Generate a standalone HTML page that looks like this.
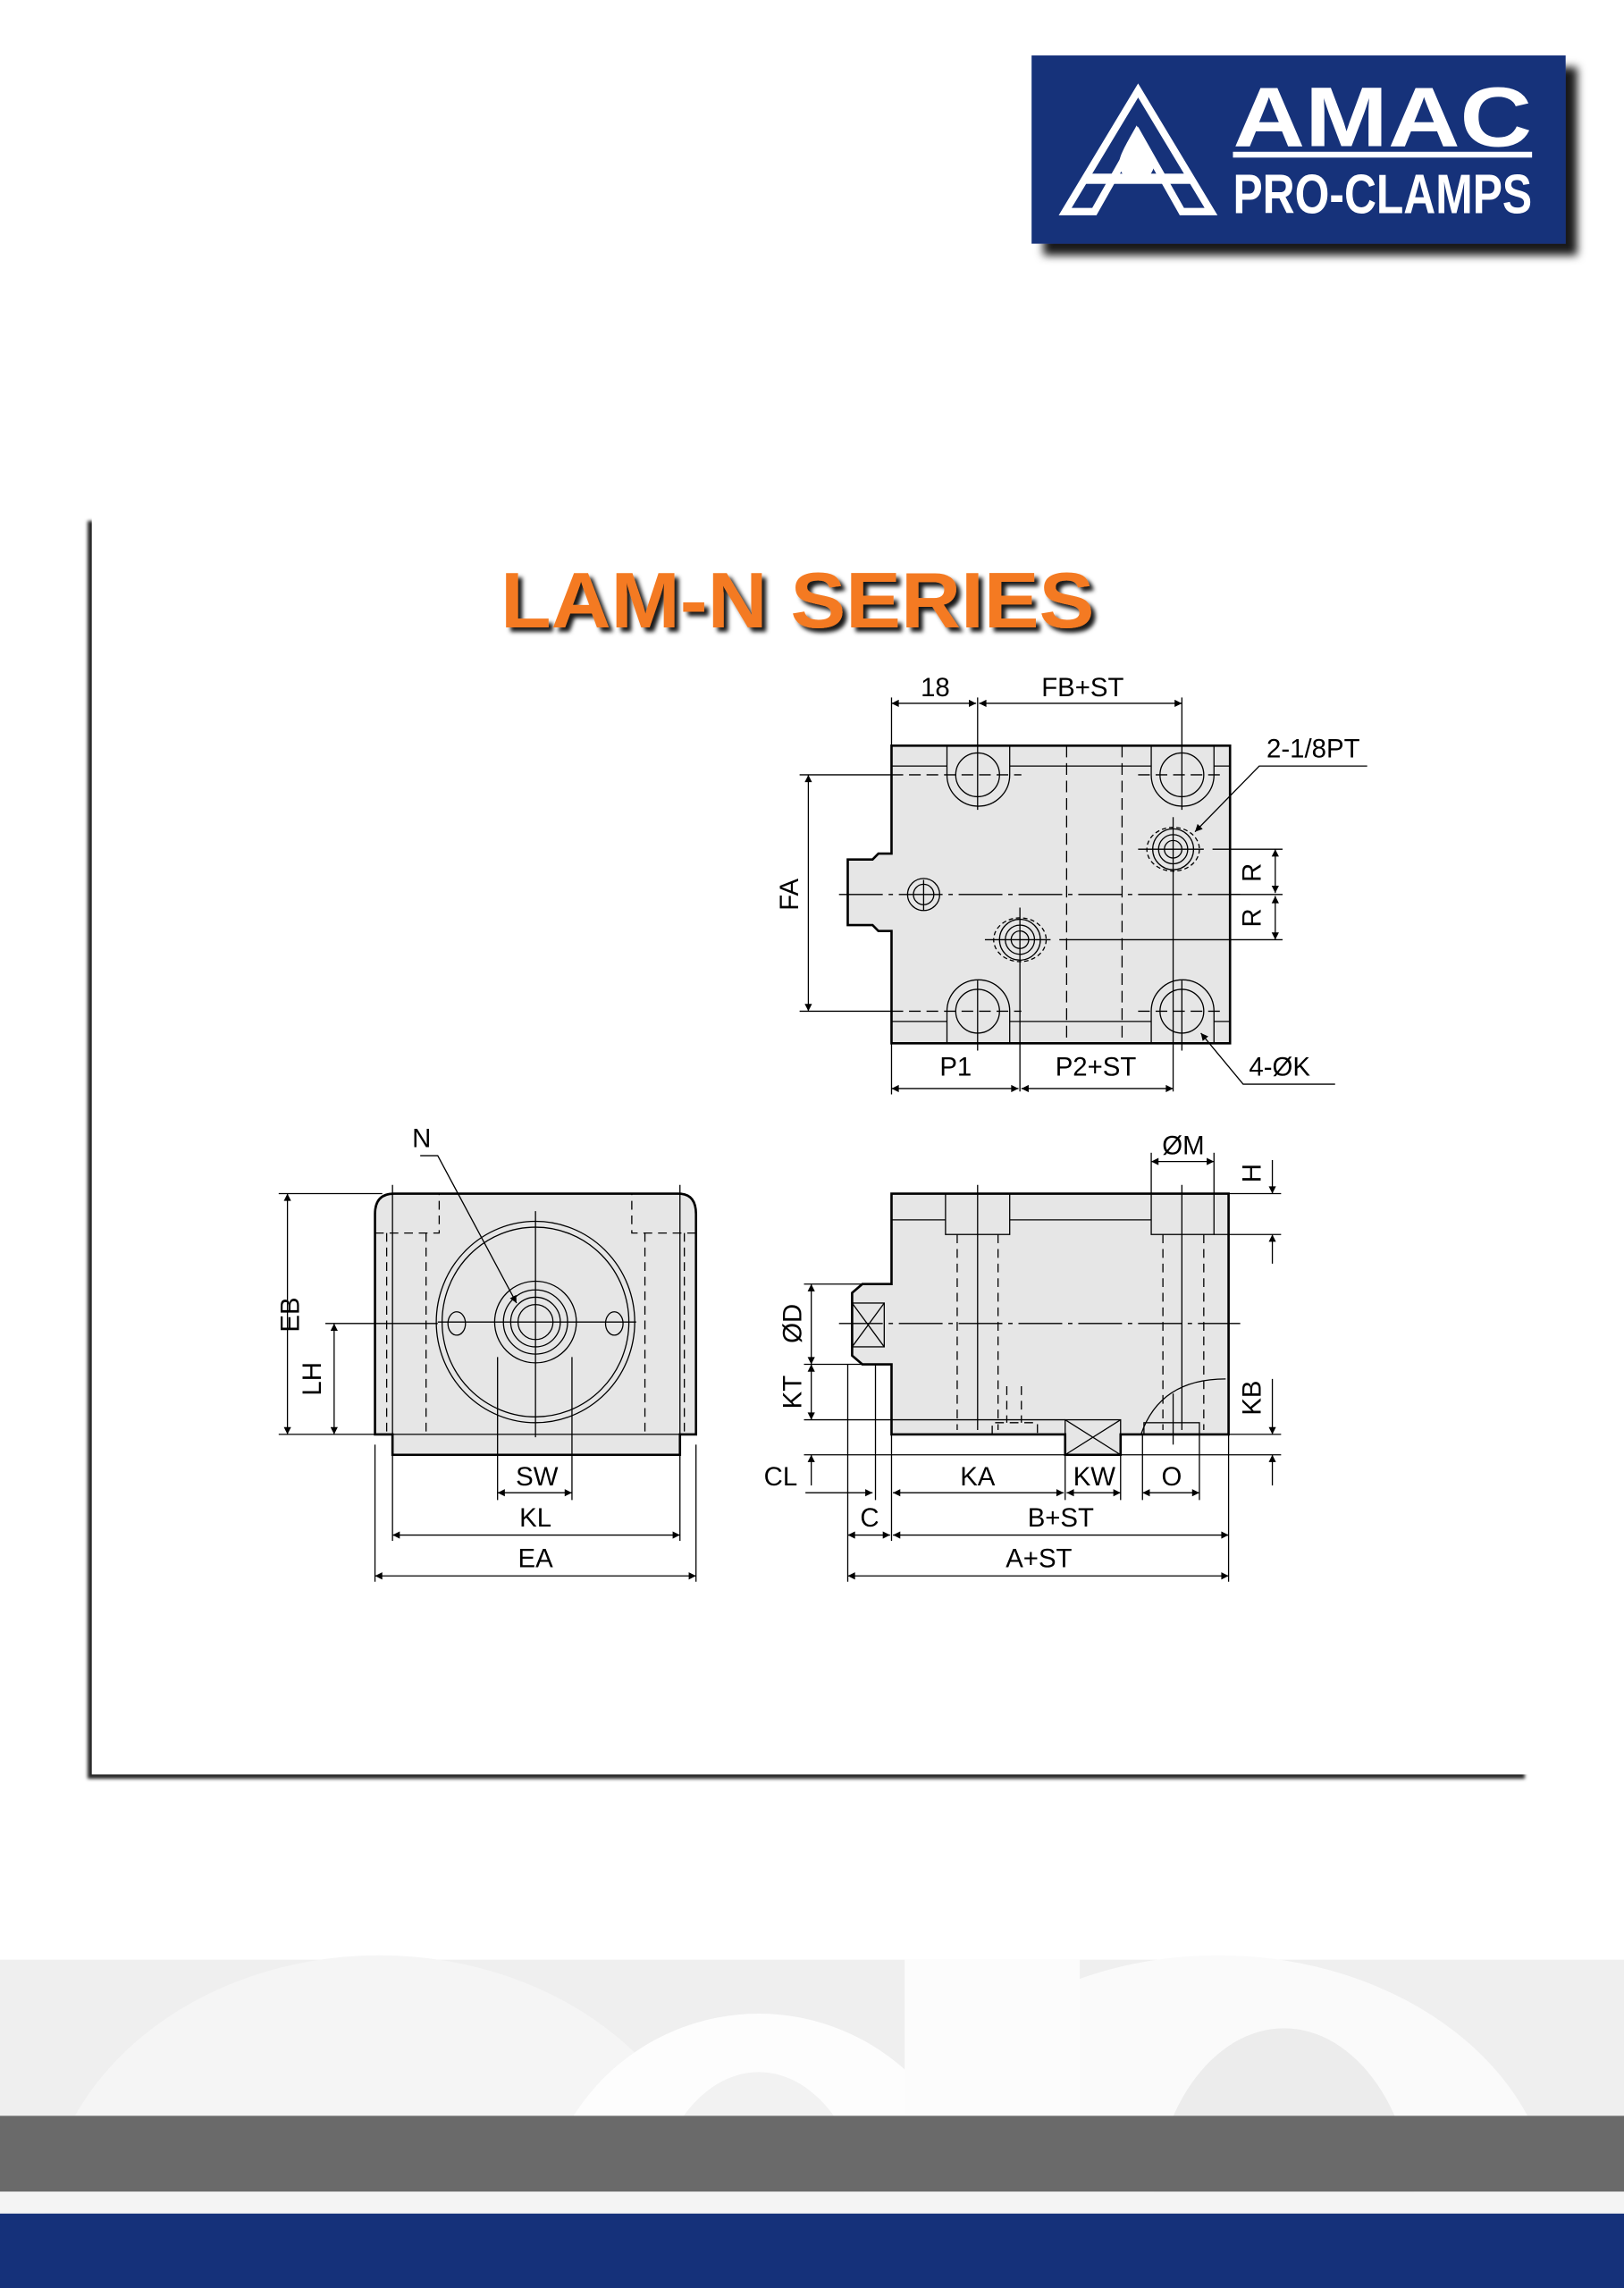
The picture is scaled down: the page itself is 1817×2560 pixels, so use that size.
<!DOCTYPE html>
<html><head><meta charset="utf-8"><style>
html,body{margin:0;padding:0;background:#fff;width:1817px;height:2560px;overflow:hidden;}
svg{display:block;}
text{font-family:"Liberation Sans",sans-serif;}
</style></head><body>
<svg width="1817" height="2560" viewBox="0 0 1113 1568" preserveAspectRatio="none" xmlns="http://www.w3.org/2000/svg">
<defs>
<marker id="a" viewBox="0 0 10 10" refX="10" refY="5" markerWidth="9" markerHeight="5" orient="auto-start-reverse" markerUnits="userSpaceOnUse"><path d="M0,0 L10,5 L0,10 z" fill="#000"/></marker>
<filter id="sh" x="-10%" y="-10%" width="130%" height="130%"><feDropShadow dx="-3" dy="3" stdDeviation="1.2" flood-color="#000" flood-opacity="0.85"/></filter>
<filter id="sh2" x="-10%" y="-20%" width="130%" height="150%"><feDropShadow dx="8" dy="8" stdDeviation="3" flood-color="#000" flood-opacity="0.9"/></filter>
<filter id="tsh"><feDropShadow dx="3" dy="3" stdDeviation="1.5" flood-color="#000" flood-opacity="0.9"/></filter>
</defs>

<rect x="0" y="1343" width="1113" height="107" fill="#efefef"/>
<ellipse cx="260" cy="1530" rx="230" ry="190" fill="#f5f5f5"/>
<ellipse cx="520" cy="1530" rx="150" ry="150" fill="#fdfdfd"/>
<ellipse cx="520" cy="1530" rx="75" ry="110" fill="#f2f2f2"/>
<ellipse cx="835" cy="1520" rx="230" ry="180" fill="#fafafa"/>
<rect x="620" y="1343" width="120" height="107" fill="#fcfcfc"/>
<ellipse cx="880" cy="1520" rx="90" ry="130" fill="#ececec"/>
<rect x="0" y="1450" width="1113" height="52" fill="#6a6a6a"/>
<rect x="0" y="1502" width="1113" height="15" fill="#f4f4f4"/>
<rect x="0" y="1517" width="1113" height="51" fill="#15317a"/>

<rect x="63" y="354" width="985" height="862" fill="#fff" filter="url(#sh)"/>

<rect x="707" y="38" width="366" height="129" fill="#16307a" filter="url(#sh2)"/>
<path d="M780,62 L830,145 L810,145 L780,92 L750,145 L730,145 Z" fill="none" stroke="#fff" stroke-width="5"/>
<rect x="744" y="119" width="72" height="7" fill="#fff"/>
<path d="M779,86 C771,100 767,107 767,112 A12,12 0 0 0 791,112 C791,107 787,100 779,86 Z" fill="#fff"/>
<text x="845" y="100" font-size="58" font-weight="bold" fill="#fff" textLength="205" lengthAdjust="spacingAndGlyphs">AMAC</text>
<rect x="845" y="104" width="205" height="4" fill="#fff"/>
<text x="845" y="146" font-size="38" font-weight="bold" fill="#fff" textLength="205" lengthAdjust="spacingAndGlyphs">PRO-CLAMPS</text>

<text x="343" y="430" font-size="54" font-weight="bold" fill="#f47a20" filter="url(#tsh)" textLength="407" lengthAdjust="spacingAndGlyphs">LAM-N SERIES</text>

<g stroke="#000" fill="none" stroke-width="0.8">
<path d="M611,511 H843 V715 H611 V638 H602 L598,634 H581 V589 H598 L602,585 H611 Z" fill="#e6e6e6" stroke-width="1.6"/>
<line x1="611" y1="525" x2="649" y2="525"/><line x1="692" y1="525" x2="789" y2="525"/><line x1="832" y1="525" x2="843" y2="525"/>
<line x1="611" y1="700" x2="649" y2="700"/><line x1="692" y1="700" x2="789" y2="700"/><line x1="832" y1="700" x2="843" y2="700"/>
<path d="M649,511 V531 A20,20 0 0 0 692,531 V511"/><path d="M789,511 V531 A21,21 0 0 0 832,531 V511"/>
<path d="M649,715 V693 A20,20 0 0 1 692,693 V715"/><path d="M789,715 V693 A21,21 0 0 1 832,693 V715"/>
<circle cx="670" cy="531" r="15"/><circle cx="810" cy="531" r="15"/><circle cx="670" cy="693" r="15"/><circle cx="810" cy="693" r="15"/>
<g stroke-dasharray="8,4"><line x1="731" y1="511" x2="731" y2="715"/><line x1="769" y1="511" x2="769" y2="715"/>
<line x1="611" y1="531" x2="700" y2="531"/><line x1="780" y1="531" x2="840" y2="531"/><line x1="611" y1="693" x2="700" y2="693"/><line x1="780" y1="693" x2="840" y2="693"/></g>
<line x1="670" y1="478" x2="670" y2="555"/><line x1="810" y1="478" x2="810" y2="555"/>
<line x1="670" y1="672" x2="670" y2="720"/><line x1="810" y1="672" x2="810" y2="720"/>
<line x1="611" y1="478" x2="611" y2="511"/>
<path d="M575,613 H850" stroke-dasharray="30,4,3,4"/>
<circle cx="633" cy="613" r="11"/><circle cx="633" cy="613" r="7"/><line x1="633" y1="603" x2="633" y2="624"/>
<circle cx="804" cy="582" r="14"/><circle cx="804" cy="582" r="10"/><circle cx="804" cy="582" r="6"/><ellipse cx="804" cy="582" rx="18" ry="15" stroke-dasharray="3,2"/>
<line x1="780" y1="582" x2="825" y2="582"/><line x1="804" y1="560" x2="804" y2="603"/>
<circle cx="699" cy="644" r="14"/><circle cx="699" cy="644" r="10"/><circle cx="699" cy="644" r="6"/><ellipse cx="699" cy="644" rx="18" ry="15" stroke-dasharray="3,2"/>
<line x1="675" y1="644" x2="720" y2="644"/><line x1="699" y1="622" x2="699" y2="748"/><line x1="804" y1="603" x2="804" y2="748"/>
<line x1="611" y1="482" x2="669" y2="482" marker-start="url(#a)" marker-end="url(#a)"/>
<line x1="671" y1="482" x2="810" y2="482" marker-start="url(#a)" marker-end="url(#a)"/>
<line x1="548" y1="531" x2="611" y2="531"/><line x1="548" y1="693" x2="611" y2="693"/>
<line x1="554" y1="531" x2="554" y2="693" marker-start="url(#a)" marker-end="url(#a)"/>
<line x1="831" y1="582" x2="879" y2="582"/><line x1="843" y1="613" x2="879" y2="613"/><line x1="726" y1="644" x2="879" y2="644"/>
<line x1="874" y1="582" x2="874" y2="612" marker-start="url(#a)" marker-end="url(#a)"/>
<line x1="874" y1="614" x2="874" y2="644" marker-start="url(#a)" marker-end="url(#a)"/>
<polyline points="937,525 863,525 819,570" marker-end="url(#a)"/>
<polyline points="915,743 852,743 823,708" marker-end="url(#a)"/>
<line x1="611" y1="715" x2="611" y2="750"/>
<line x1="611" y1="746" x2="698" y2="746" marker-start="url(#a)" marker-end="url(#a)"/>
<line x1="700" y1="746" x2="804" y2="746" marker-start="url(#a)" marker-end="url(#a)"/>

<path d="M270,818 H465 Q477,818 477,832 V983 H466 V997 H269 V983 H257 V832 Q257,818 270,818 Z" fill="#e6e6e6" stroke-width="1.6"/>
<line x1="257" y1="983" x2="477" y2="983"/>
<g stroke-dasharray="6,4"><line x1="265" y1="845" x2="265" y2="983"/><line x1="292" y1="845" x2="292" y2="983"/><line x1="442" y1="845" x2="442" y2="983"/><line x1="469" y1="845" x2="469" y2="983"/>
<polyline points="257,845 301,845 301,818"/><polyline points="477,845 433,845 433,818"/></g>
<line x1="269" y1="812" x2="269" y2="997"/><line x1="466" y1="812" x2="466" y2="997"/>
<ellipse cx="367" cy="906" rx="68" ry="69"/><ellipse cx="367" cy="906" rx="64" ry="65"/>
<circle cx="367" cy="906" r="28"/><circle cx="367" cy="906" r="22"/><circle cx="367" cy="906" r="17"/><circle cx="367" cy="906" r="12"/>
<ellipse cx="313" cy="907" rx="6" ry="8"/><ellipse cx="421" cy="907" rx="6" ry="8"/>
<line x1="300" y1="906" x2="436" y2="906"/><line x1="367" y1="830" x2="367" y2="985"/>
<polyline points="288,792 300,792 354,893" marker-end="url(#a)"/>
<line x1="191" y1="818" x2="262" y2="818"/><line x1="191" y1="983" x2="257" y2="983"/><line x1="223" y1="907" x2="300" y2="907"/>
<line x1="197" y1="818" x2="197" y2="983" marker-start="url(#a)" marker-end="url(#a)"/>
<line x1="229" y1="907" x2="229" y2="983" marker-start="url(#a)" marker-end="url(#a)"/>
<line x1="341" y1="930" x2="341" y2="1028"/><line x1="392" y1="930" x2="392" y2="1028"/>
<line x1="257" y1="990" x2="257" y2="1084"/><line x1="477" y1="990" x2="477" y2="1084"/>
<line x1="269" y1="997" x2="269" y2="1056"/><line x1="466" y1="997" x2="466" y2="1056"/>
<line x1="341" y1="1023" x2="392" y2="1023" marker-start="url(#a)" marker-end="url(#a)"/>
<line x1="269" y1="1052" x2="466" y2="1052" marker-start="url(#a)" marker-end="url(#a)"/>
<line x1="257" y1="1080" x2="477" y2="1080" marker-start="url(#a)" marker-end="url(#a)"/>

<path d="M611,818 H842 V983 H768 V997 H730 V983 H611 V935 H591 L584,929 V886 L591,880 H611 Z" fill="#e6e6e6" stroke-width="1.6"/>
<line x1="611" y1="836" x2="648" y2="836"/><line x1="692" y1="836" x2="789" y2="836"/>
<rect x="648" y="818" width="44" height="28"/><rect x="789" y="818" width="43" height="28"/>
<rect x="584" y="893" width="22" height="30"/><line x1="584" y1="893" x2="606" y2="923"/><line x1="606" y1="893" x2="584" y2="923"/>
<rect x="730" y="973" width="38" height="24"/><line x1="730" y1="973" x2="768" y2="997"/><line x1="768" y1="973" x2="730" y2="997"/>
<g stroke-dasharray="6,4"><line x1="656" y1="846" x2="656" y2="980"/><line x1="684" y1="846" x2="684" y2="980"/><line x1="797" y1="846" x2="797" y2="980"/><line x1="825" y1="846" x2="825" y2="980"/>
<polyline points="680,983 680,975 711,975 711,983"/><line x1="690" y1="950" x2="690" y2="975"/><line x1="700" y1="950" x2="700" y2="975"/></g>
<line x1="670" y1="812" x2="670" y2="980"/>
<path d="M575,907 H850" stroke-dasharray="30,4,3,4"/>
<path d="M782,983 Q795,945 840,945"/><rect x="784" y="975" width="38" height="8"/><line x1="804" y1="955" x2="804" y2="990"/>
<line x1="810" y1="812" x2="810" y2="980" />
<line x1="789" y1="790" x2="789" y2="818"/><line x1="832" y1="790" x2="832" y2="818"/>
<line x1="789" y1="796" x2="832" y2="796" marker-start="url(#a)" marker-end="url(#a)"/>
<line x1="842" y1="818" x2="878" y2="818"/><line x1="832" y1="846" x2="878" y2="846"/>
<line x1="872" y1="795" x2="872" y2="818" marker-end="url(#a)"/><line x1="872" y1="866" x2="872" y2="846" marker-end="url(#a)"/>
<line x1="551" y1="880" x2="591" y2="880"/><line x1="551" y1="935" x2="591" y2="935"/>
<line x1="556" y1="880" x2="556" y2="935" marker-start="url(#a)" marker-end="url(#a)"/>
<line x1="551" y1="973" x2="730" y2="973"/>
<line x1="556" y1="935" x2="556" y2="973" marker-start="url(#a)" marker-end="url(#a)"/>
<line x1="551" y1="997" x2="878" y2="997"/>
<line x1="556" y1="1018" x2="556" y2="997" marker-end="url(#a)"/>
<line x1="842" y1="983" x2="878" y2="983"/>
<line x1="872" y1="945" x2="872" y2="983" marker-end="url(#a)"/><line x1="872" y1="1018" x2="872" y2="997" marker-end="url(#a)"/>
<line x1="581" y1="935" x2="581" y2="1084"/><line x1="600" y1="935" x2="600" y2="1028"/><line x1="611" y1="983" x2="611" y2="1056"/>
<line x1="842" y1="983" x2="842" y2="1084"/><line x1="730" y1="997" x2="730" y2="1028"/><line x1="768" y1="997" x2="768" y2="1028"/>
<line x1="783" y1="983" x2="783" y2="1028"/><line x1="822" y1="983" x2="822" y2="1028"/>
<line x1="552" y1="1023" x2="598" y2="1023" marker-end="url(#a)"/>
<line x1="612" y1="1023" x2="729" y2="1023" marker-start="url(#a)" marker-end="url(#a)"/>
<line x1="731" y1="1023" x2="768" y2="1023" marker-start="url(#a)" marker-end="url(#a)"/>
<line x1="783" y1="1023" x2="822" y2="1023" marker-start="url(#a)" marker-end="url(#a)"/>
<line x1="581" y1="1052" x2="610" y2="1052" marker-start="url(#a)" marker-end="url(#a)"/>
<line x1="612" y1="1052" x2="842" y2="1052" marker-start="url(#a)" marker-end="url(#a)"/>
<line x1="581" y1="1080" x2="842" y2="1080" marker-start="url(#a)" marker-end="url(#a)"/>
</g>

<g font-size="18" fill="#000" text-anchor="middle">
<text x="641" y="477">18</text><text x="742" y="477">FB+ST</text>
<text x="900" y="519">2-1/8PT</text>
<text x="877" y="737">4-ØK</text>
<text x="655" y="737">P1</text><text x="751" y="737">P2+ST</text>
<text transform="translate(547,613) rotate(-90)">FA</text>
<text transform="translate(864,598) rotate(-90)">R</text>
<text transform="translate(864,629) rotate(-90)">R</text>
<text x="289" y="786">N</text>
<text transform="translate(205,901) rotate(-90)">EB</text>
<text transform="translate(220,945) rotate(-90)">LH</text>
<text x="368" y="1018">SW</text><text x="367" y="1046">KL</text><text x="367" y="1074">EA</text>
<text x="811" y="791">ØM</text>
<text transform="translate(864,804) rotate(-90)">H</text>
<text transform="translate(549,907) rotate(-90)">ØD</text>
<text transform="translate(549,954) rotate(-90)">KT</text>
<text transform="translate(864,958) rotate(-90)">KB</text>
<text x="535" y="1018">CL</text><text x="670" y="1018">KA</text><text x="750" y="1018">KW</text><text x="803" y="1018">O</text>
<text x="596" y="1046">C</text><text x="727" y="1046">B+ST</text><text x="712" y="1074">A+ST</text>
</g>
</svg>
</body></html>
